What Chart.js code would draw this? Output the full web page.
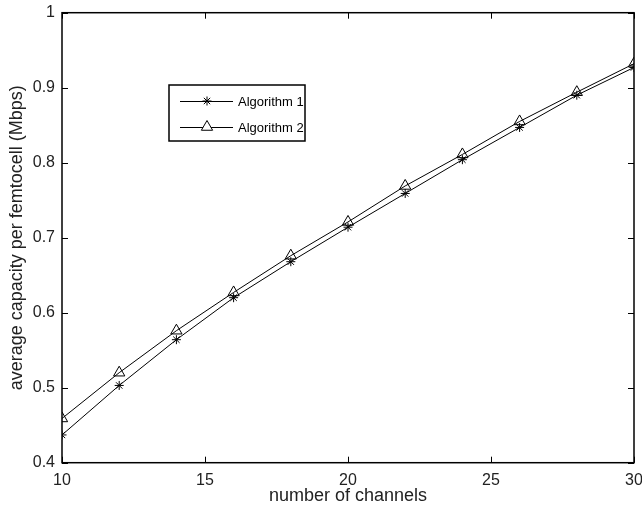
<!DOCTYPE html>
<html>
<head>
<meta charset="utf-8">
<script src="https://cdn.jsdelivr.net/npm/chart.js@4/dist/chart.umd.min.js"></script>
<style>
  html, body { margin: 0; padding: 0; background: #fff; }
  #wrap { width: 642px; height: 510px; }
</style>
</head>
<body>
<div id="wrap"><canvas id="myChart"></canvas></div>
<script>
const channels = [10, 12, 14, 16, 18, 20, 22, 24, 26, 28, 30]
const algorithm1 = [0.437, 0.503, 0.564, 0.620, 0.668, 0.714, 0.759, 0.804, 0.847, 0.890, 0.927]
const algorithm2 = [0.459, 0.520, 0.576, 0.627, 0.676, 0.721, 0.769, 0.811, 0.855, 0.894, 0.932]
const xTicks = [10, 15, 20, 25, 30]
const yTicks = [0.4, 0.5, 0.6, 0.7, 0.8, 0.9, 1]

const font = "'Liberation Sans', Arial, Helvetica, sans-serif"

// matlab style box, inward ticks and legend
const boxPlugin = {
    id: 'box',
    afterDraw(chart) {
        const {ctx, chartArea: a, scales: {x, y}} = chart
        ctx.save()
        ctx.strokeStyle = '#000'
        ctx.lineWidth = 1
        xTicks.forEach(v => {
            let px = Math.round(x.getPixelForValue(v)) + 0.5
            ctx.beginPath()
            ctx.moveTo(px, a.bottom); ctx.lineTo(px, a.bottom - 6)
            ctx.moveTo(px, a.top); ctx.lineTo(px, a.top + 6)
            ctx.stroke()
        })
        yTicks.forEach(v => {
            let py = Math.round(y.getPixelForValue(v)) + 0.5
            ctx.beginPath()
            ctx.moveTo(a.left, py); ctx.lineTo(a.left + 6, py)
            ctx.moveTo(a.right, py); ctx.lineTo(a.right - 6, py)
            ctx.stroke()
        })
        ctx.lineWidth = 1.5
        ctx.strokeRect(a.left, a.top, a.right - a.left, a.bottom - a.top)

        // legend
        const lx = 169, ly = 85, lw = 136, lh = 56
        ctx.fillStyle = '#fff'
        ctx.fillRect(lx, ly, lw, lh)
        ctx.lineWidth = 1.5
        ctx.strokeRect(lx, ly, lw, lh)
        const rows = [
            {label: 'Algorithm 1', style: 'star', r: 4.5, y: 101},
            {label: 'Algorithm 2', style: 'triangle', r: 6.5, y: 127}
        ]
        ctx.font = '13px ' + font
        ctx.textBaseline = 'middle'
        rows.forEach(row => {
            ctx.lineWidth = 1
            ctx.strokeStyle = '#000'
            ctx.beginPath()
            ctx.moveTo(180, row.y + 0.5); ctx.lineTo(233, row.y + 0.5)
            ctx.stroke()
            ctx.fillStyle = '#fff'
            Chart.helpers.drawPoint(ctx, {pointStyle: row.style, radius: row.r, borderWidth: 1, rotation: 0}, 207, row.y)
            ctx.fillStyle = '#000'
            ctx.fillText(row.label, 238, row.y + 1)
        })
        ctx.restore()
    }
}

const series = [
    {label: 'Algorithm 1', values: algorithm1, style: 'star', r: 4.5},
    {label: 'Algorithm 2', values: algorithm2, style: 'triangle', r: 6.5}
]

const config = {
    type: 'line',
    data: {
        datasets: series.map(s => ({
            label: s.label,
            data: s.values.map((v, i) => ({x: channels[i], y: v})),
            borderColor: '#000',
            borderWidth: 1,
            pointStyle: s.style,
            pointRadius: s.r,
            pointBackgroundColor: 'rgba(255,255,255,0)',
            pointBorderColor: '#000',
            pointBorderWidth: 1,
            tension: 0
        }))
    },
    options: {
        responsive: true,
        maintainAspectRatio: false,
        animation: false,
        layout: {padding: {top: 12.7, right: 8, left: 0, bottom: 0}},
        plugins: {legend: false, tooltip: {enabled: false}},
        scales: {
            x: {
                type: 'linear',
                min: 10, max: 30,
                afterBuildTicks: s => { s.ticks = xTicks.map(v => ({value: v})) },
                afterFit: s => { s.height = 47.3; s.paddingLeft = 0; s.paddingRight = 0 },
                grid: {display: false, drawTicks: false},
                border: {display: false},
                ticks: {color: '#222', font: {family: font, size: 16}, padding: 8, maxRotation: 0},
                title: {display: true, text: 'number of channels', color: '#222', font: {family: font, size: 18}, padding: {top: 0, bottom: 3}}
            },
            y: {
                min: 0.4, max: 1,
                afterBuildTicks: s => { s.ticks = yTicks.map(v => ({value: v})) },
                afterFit: s => { s.width = 62; s.paddingTop = 0; s.paddingBottom = 0 },
                grid: {display: false, drawTicks: false},
                border: {display: false},
                ticks: {color: '#222', font: {family: font, size: 16}, padding: 7, callback: v => String(Math.round(v * 10) / 10)},
                title: {display: true, text: 'average capacity per femtocell (Mbps)', color: '#222', font: {family: font, size: 18}, padding: {top: 6, bottom: 0}}
            }
        }
    },
    plugins: [boxPlugin]
}

const myChart = new Chart(document.getElementById('myChart'), config)
</script>
</body>
</html>
